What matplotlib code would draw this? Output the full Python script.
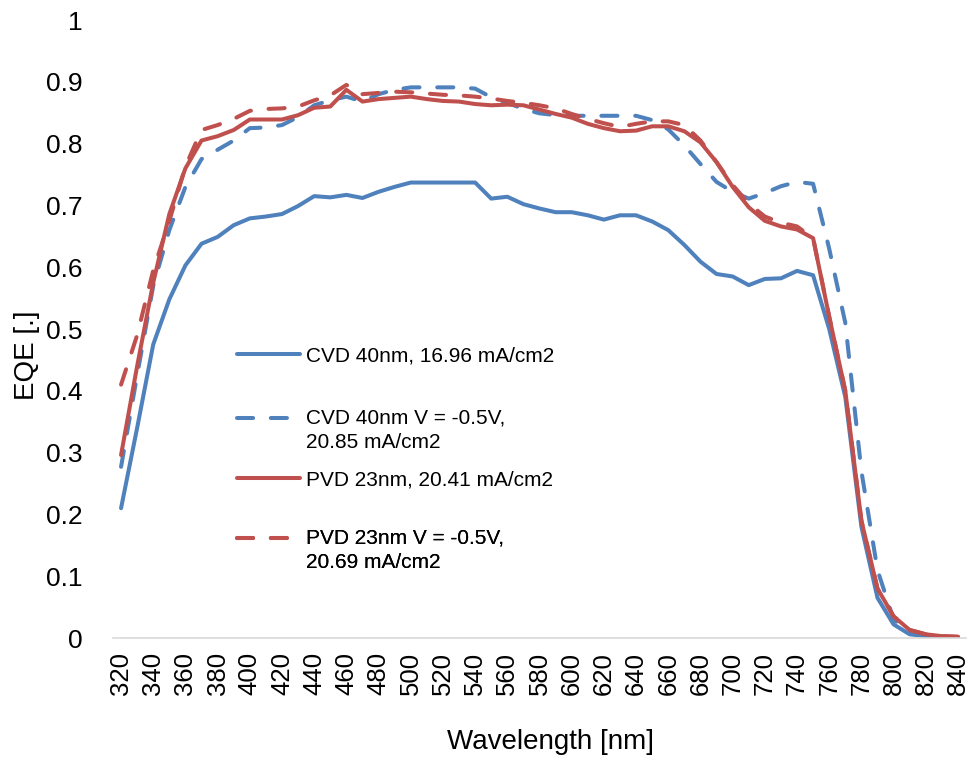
import numpy as np
import matplotlib
matplotlib.use("Agg")
import matplotlib.pyplot as plt
from matplotlib.legend_handler import HandlerLine2D

plt.rcParams['font.family'] = ['Liberation Sans', 'DejaVu Sans']

wavelength = list(range(320, 841, 10))

cvd = [0.21, 0.34, 0.475, 0.548, 0.603, 0.638, 0.649, 0.668, 0.679, 0.682,
       0.686, 0.699, 0.715, 0.713, 0.717, 0.712, 0.722, 0.730, 0.737, 0.737,
       0.737, 0.737, 0.737, 0.711, 0.714, 0.702, 0.695, 0.689, 0.689, 0.684,
       0.677, 0.684, 0.684, 0.674, 0.660, 0.636, 0.609, 0.589, 0.585, 0.571,
       0.581, 0.582, 0.594, 0.587, 0.50, 0.39, 0.18, 0.065, 0.022, 0.006,
       0.003, 0.001, 0.0]

cvd_bias = [0.277, 0.425, 0.57, 0.66, 0.73, 0.775, 0.79, 0.805, 0.825, 0.826,
            0.83, 0.843, 0.862, 0.87, 0.876, 0.868, 0.88, 0.887, 0.891, 0.891,
            0.891, 0.891, 0.889, 0.875, 0.866, 0.856, 0.849, 0.846, 0.845, 0.845,
            0.845, 0.845, 0.845, 0.838, 0.823, 0.797, 0.767, 0.738, 0.722, 0.711,
            0.72, 0.731, 0.738, 0.735, 0.63, 0.51, 0.27, 0.11, 0.03, 0.01,
            0.004, 0.002, 0.001]

pvd = [0.296, 0.44, 0.575, 0.686, 0.76, 0.805, 0.812, 0.822, 0.839, 0.839,
       0.839, 0.846, 0.858, 0.86, 0.887, 0.868, 0.872, 0.874, 0.876, 0.872,
       0.869, 0.868, 0.864, 0.862, 0.863, 0.862, 0.855, 0.848, 0.842, 0.832,
       0.825, 0.82, 0.821, 0.828, 0.828, 0.82, 0.802, 0.77, 0.73, 0.697,
       0.675, 0.666, 0.661, 0.647, 0.52, 0.40, 0.19, 0.08, 0.035, 0.013,
       0.006, 0.003, 0.002]

pvd_bias = [0.41, 0.49, 0.595, 0.675, 0.763, 0.822, 0.83, 0.84, 0.853, 0.856,
            0.857, 0.86, 0.87, 0.878, 0.895, 0.88, 0.882, 0.884, 0.883, 0.881,
            0.879, 0.878, 0.876, 0.873, 0.869, 0.866, 0.862, 0.857, 0.848, 0.84,
            0.833, 0.827, 0.832, 0.836, 0.836, 0.83, 0.805, 0.77, 0.733, 0.703,
            0.682, 0.672, 0.666, 0.647, 0.52, 0.40, 0.19, 0.08, 0.035, 0.013,
            0.006, 0.003, 0.002]

labels = ["CVD 40nm, 16.96 mA/cm2",
          "CVD 40nm V = -0.5V,\n20.85 mA/cm2",
          "PVD 23nm, 20.41 mA/cm2",
          "PVD 23nm V = -0.5V,\n20.69 mA/cm2"]

xtick_values = list(range(320, 841, 20))
ytick_values = [0, 0.1, 0.2, 0.3, 0.4, 0.5, 0.6, 0.7, 0.8, 0.9, 1.0]
ytick_labels = ["0", "0.1", "0.2", "0.3", "0.4", "0.5", "0.6", "0.7", "0.8", "0.9", "1"]

BLUE = "#4F81BD"
RED = "#C0504D"
LW = 2.9
DASH = (4.0, 4.4)

fig = plt.figure(figsize=(9.67, 7.57), dpi=100)
ax = fig.add_axes([113 / 967, 1 - 638 / 757, 853 / 967, 618 / 757])

l1, = ax.plot(wavelength, cvd, color=BLUE, lw=LW, solid_joinstyle='round', solid_capstyle='round')
l2, = ax.plot(wavelength, cvd_bias, color=BLUE, lw=LW, dashes=DASH,
              dash_capstyle='round', dash_joinstyle='round')
l3, = ax.plot(wavelength, pvd, color=RED, lw=LW, solid_joinstyle='round', solid_capstyle='round')
l4, = ax.plot(wavelength, pvd_bias, color=RED, lw=LW, dashes=DASH,
              dash_capstyle='round', dash_joinstyle='round')

ax.set_xlim(315, 845)
ax.set_ylim(0, 1)
ax.set_xticks(xtick_values)
ax.set_xticklabels([str(v) for v in xtick_values], rotation=90, fontsize=18.5)
ax.set_yticks(ytick_values)
ax.set_yticklabels(ytick_labels, fontsize=19)
ax.tick_params(axis='x', length=0, pad=10)
ax.tick_params(axis='y', length=0, pad=22)

for s in ['left', 'right', 'top']:
    ax.spines[s].set_visible(False)
ax.spines['bottom'].set_color('#D9D9D9')
ax.spines['bottom'].set_linewidth(1.2)

ax.set_xlabel("Wavelength [nm]", fontsize=20)
ax.set_ylabel("EQE [.]", fontsize=20)
ax.xaxis.set_label_coords(0.513, -0.147)
ax.yaxis.set_label_coords(-0.0856, 0.458)


class FirstLineHandler(HandlerLine2D):
    def __init__(self, shift_pts=0.0, **kw):
        super().__init__(**kw)
        self.shift_pts = shift_pts

    def create_artists(self, legend, orig_handle, xdescent, ydescent, width, height, fontsize, trans):
        return super().create_artists(legend, orig_handle, xdescent, ydescent - 2 * self.shift_pts,
                                      width, height, fontsize, trans)


lines = [l1, l2, l3, l4]
centers = [0.4568, 0.3358, 0.2557, 0.1416]
shifts = [0, 9.2, 0, 9.2]
for ln, lab, cy, sh in zip(lines, labels, centers, shifts):
    leg = ax.legend([ln], [lab], loc='center left', bbox_to_anchor=(0.1454, cy),
                    frameon=False, fontsize=15, handlelength=3.0, handletextpad=0.3,
                    borderpad=0, borderaxespad=0,
                    handler_map={ln: FirstLineHandler(shift_pts=sh)})
    for t in leg.get_texts():
        t.set_linespacing(1.38)
    ax.add_artist(leg)

fig.savefig("out.png", dpi=100)
